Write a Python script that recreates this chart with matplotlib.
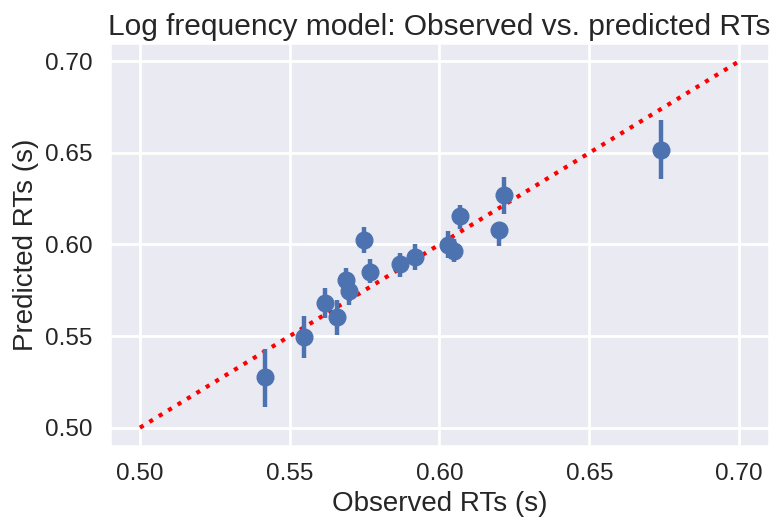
import numpy as np
import matplotlib
matplotlib.use("Agg")
import matplotlib.pyplot as plt
import seaborn as sns

# observed vs predicted RTs (seconds), with CI bounds on predicted
observed = [0.5418, 0.5547, 0.5619, 0.5658, 0.5688, 0.5698, 0.5749, 0.5768,
            0.5867, 0.5919, 0.6028, 0.6048, 0.6067, 0.6198, 0.6217, 0.6739]
predicted = [0.5279, 0.5496, 0.5681, 0.5603, 0.5805, 0.5745, 0.6022, 0.5851,
             0.5891, 0.5933, 0.5996, 0.5966, 0.6153, 0.6078, 0.6268, 0.6515]
pred_low = [0.5115, 0.5383, 0.5596, 0.5508, 0.5740, 0.5667, 0.5951, 0.5787,
            0.5825, 0.5863, 0.5925, 0.5902, 0.6082, 0.5989, 0.6164, 0.6359]
pred_high = [0.5432, 0.5612, 0.5765, 0.5699, 0.5874, 0.5820, 0.6098, 0.5918,
             0.5956, 0.6000, 0.6071, 0.6030, 0.6213, 0.6104, 0.6366, 0.6679]
diag = [0.5, 0.7]
ticks = [0.50, 0.55, 0.60, 0.65, 0.70]
tick_labels = ["0.50", "0.55", "0.60", "0.65", "0.70"]

sns.set_theme(style="darkgrid", context="talk")
plt.rcParams['font.family'] = ['Liberation Sans', 'DejaVu Sans']
plt.rcParams['grid.linewidth'] = 2

observed = np.array(observed)
predicted = np.array(predicted)
yerr = [predicted - np.array(pred_low), np.array(pred_high) - predicted]

fig, ax = plt.subplots(figsize=(7.73, 5.21), dpi=100)
fig.subplots_adjust(left=0.1423, right=0.9948, top=0.9175, bottom=0.144)

ax.errorbar(observed, predicted, yerr=yerr, fmt="o", color="#4C72B0",
            markersize=12, elinewidth=3.2, capsize=0, zorder=3)
ax.plot(diag, diag, ":", color="red", linewidth=3, zorder=2)

ax.set_xlim(0.49, 0.71)
ax.set_ylim(0.49, 0.71)
ax.set_xticks(ticks)
ax.set_yticks(ticks)
ax.set_xticklabels(tick_labels)
ax.set_yticklabels(tick_labels)
ax.tick_params(labelsize=17.6)

ax.set_xlabel("Observed RTs (s)", fontsize=20)
ax.set_ylabel("Predicted RTs (s)", fontsize=20)
ax.set_title("Log frequency model: Observed vs. predicted RTs", fontsize=21.5)

fig.savefig("out.png", dpi=100)
